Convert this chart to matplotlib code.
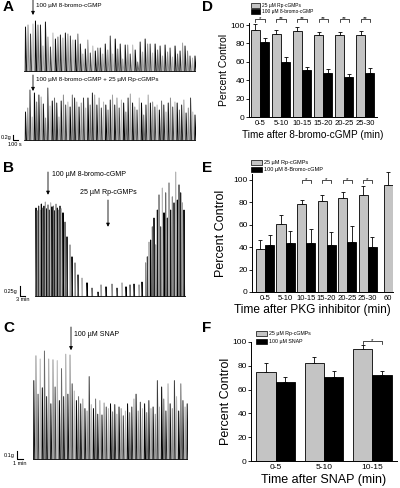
import numpy as np
import matplotlib
matplotlib.use('Agg')
import matplotlib.pyplot as plt
from matplotlib.patches import Patch

plt.rcParams['font.family'] = ['Liberation Sans', 'DejaVu Sans']

W, H = 400, 488

# ---- panel A: contraction amplitudes (g), evenly paced, 3440 s traces
a1_heights = [1.76, 1.84, 1.48, 1.88, 2.00, 1.84, 1.84, 1.00, 1.96, 1.36,
              0.96, 1.52, 1.28, 1.36, 1.44, 1.32, 1.52, 1.48, 1.40, 1.24,
              1.24, 1.48, 1.08, 0.68, 0.88, 1.24, 0.72, 1.00, 0.80, 0.92,
              0.92, 0.68, 1.08, 0.84, 1.40, 0.68, 1.28, 0.88, 1.08, 0.48,
              1.04, 1.04, 0.68, 1.04, 0.84, 0.36, 1.16, 0.76, 1.28, 1.08,
              1.08, 0.72, 1.08, 0.84, 1.00, 0.60, 1.04, 0.76, 0.92, 0.56,
              1.00, 0.68, 0.80, 1.12, 1.00, 0.80, 0.60, 0.52, 0.60]
a2_heights = [1.12, 1.28, 2.00, 0.92, 1.88, 1.52, 1.80, 1.72, 1.44, 0.88,
              2.08, 1.36, 1.56, 1.68, 1.48, 0.92, 1.56, 1.80, 1.40, 1.52,
              1.32, 1.80, 1.68, 1.52, 1.32, 1.48, 1.68, 1.28, 1.68, 1.40,
              1.88, 1.80, 1.40, 1.68, 1.28, 1.52, 1.40, 1.20, 1.60, 1.80,
              1.40, 1.68, 1.28, 1.60, 1.48, 1.12, 1.68, 1.84, 1.48, 1.32,
              1.20, 1.68, 1.48, 1.00, 1.40, 1.80, 1.48, 1.52, 1.32, 1.40,
              1.20, 1.56, 1.40, 1.12, 1.48, 1.68, 1.32, 1.52, 1.48, 1.20,
              1.40, 1.60, 1.08, 1.28, 1.68, 1.12, 1.00]
a_duration = 3440

# ---- panel B: contraction times (min) and amplitudes (g)
b_times = [0.6, 1.4, 2.2, 3.0, 3.8, 4.6, 5.4, 6.2, 7.0, 7.8,
           8.6, 9.4, 10.2, 11.0, 11.8, 12.6, 13.4, 14.2, 15.0, 15.8,
           16.8, 18.0, 19.2, 21.0, 22.2, 24.0, 25.8, 28.2, 31.2, 34.2,
           37.8, 39.6, 42.6, 46.2, 49.2, 52.2, 54.6, 57.0, 59.4, 62.4, 64.2,
           66.4, 67.4, 68.4, 69.4, 70.4, 71.4, 72.4, 73.4, 74.4, 75.4,
           76.4, 77.4, 78.4, 79.4, 80.4, 81.4, 82.4, 83.4, 84.4, 85.4,
           86.4, 87.4, 88.4, 89.4]
b_heights = [2.20, 2.13, 2.25, 2.15, 2.30, 2.20, 2.25, 2.35, 2.18, 2.28,
             2.15, 2.33, 2.23, 2.25, 2.13, 2.30, 2.20, 2.15, 2.25, 2.18,
             2.08, 1.85, 1.48, 1.28, 0.98, 0.83, 0.53, 0.45, 0.33, 0.20,
             0.10, 0.28, 0.23, 0.30, 0.20, 0.33, 0.23, 0.28, 0.30, 0.28, 0.35,
             0.83, 0.98, 1.35, 1.40, 1.73, 1.95, 1.28, 2.15, 2.53, 1.73,
             2.70, 2.08, 2.58, 1.95, 2.83, 2.15, 2.48, 2.33, 3.10, 2.40,
             2.78, 2.58, 2.33, 2.15]
b_duration = 90.6

# ---- panel C: contraction amplitudes (g), evenly paced, 1550 s trace
c_heights = [0.98, 1.29, 0.81, 1.25, 0.89, 1.35, 0.78, 1.25, 0.69, 1.24,
             0.90, 1.23, 0.73, 1.13, 0.78, 1.31, 0.81, 1.30,
             0.94, 0.85, 0.73, 0.78, 0.69, 0.75, 0.63, 0.60, 1.03, 0.68,
             0.63, 0.75, 0.56, 0.73, 0.55, 0.70, 0.65, 0.63, 0.69, 0.59,
             0.68, 0.56, 0.65, 0.63, 0.54, 0.60, 0.69, 0.58, 0.65, 0.75,
             0.81, 0.60, 0.71, 0.63, 0.69, 0.58, 0.73, 0.63, 0.65, 0.56,
             0.98, 0.65, 0.90, 0.75, 0.60, 0.94, 0.69, 0.63, 0.98, 0.78,
             0.60, 0.94, 0.73, 0.65, 0.69]
c_duration = 1550

# ---- bar panels (percent control, mean and SEM)
d_labels = ['0-5', '5-10', '10-15', '15-20', '20-25', '25-30']
d_rp = [95, 90, 93, 89, 89, 89]
d_rp_err = [6, 5, 5, 3, 3, 4]
d_bromo = [82, 60, 51, 47.5, 43, 48]
d_bromo_err = [3.5, 5, 3, 4.5, 4, 5]
d_sig = ['*', '**', '**', '**', '**', '**']

e_labels = ['0-5', '5-10', '10-15', '15-20', '20-25', '25-30', '60']
e_rp = [38, 60.7, 78.6, 81.5, 83.6, 86.3, 95.8]
e_rp_err = [8, 8, 3.5, 5, 6, 8, 11]
e_bromo = [42, 43.5, 44, 41.7, 45, 40]
e_bromo_err = [8.6, 11, 12, 12.3, 14, 9]
e_sig = ['', '', '*', '*', '*', '*']

f_labels = ['0-5', '5-10', '10-15']
f_rp = [75, 82.4, 93.8]
f_rp_err = [7, 4.6, 3.7]
f_snap = [66.7, 71, 72]
f_snap_err = [3.6, 4.6, 4]
f_sig = ['', '', '*']

fig = plt.figure(figsize=(W / 100, H / 100), dpi=100)


def px_axes(left, top, right, bottom):
    return fig.add_axes([left / W, 1 - bottom / H, (right - left) / W, (bottom - top) / H])


def px_text(x, y, s, **kw):
    fig.text(x / W, 1 - y / H, s, **kw)


SHADES = ['#111111', '#8c8c8c', '#3c3c3c', '#b4b4b4', '#000000', '#6a6a6a', '#222222', '#a0a0a0']


def draw_trace(ax, times, heights, pace):
    for i, (t, h) in enumerate(zip(times, heights)):
        ax.plot([t - 0.12 * pace, t, t + 0.45 * pace], [0, h, 0],
                color=SHADES[i % len(SHADES)], lw=0.7)
    ax.plot([0, ax.get_xlim()[1]], [0, 0], color='k', lw=0.6)
    ax.axis('off')


def scale_bar(ax, x0, dx, dy, ylab, xlab, ylab_dx, xlab_dy, fs=4):
    ax.plot([x0, x0, x0 + dx], [dy, 0, 0], color='k', lw=0.8, clip_on=False)
    ax.text(x0 - ylab_dx, dy / 2, ylab, ha='right', va='center', fontsize=fs)
    ax.text(x0 + dx / 2, -xlab_dy, xlab, ha='center', va='top', fontsize=fs)


def arrow(ax, x, y0, y1):
    ax.annotate('', xy=(x, y1), xytext=(x, y0),
                arrowprops=dict(arrowstyle='-|>', lw=0.6, color='k',
                                mutation_scale=5, shrinkA=0, shrinkB=0),
                annotation_clip=False)


# ---- A
ax = px_axes(24, 0, 196, 72)
ax.set_xlim(0, a_duration)
ax.set_ylim(-0.04, 2.84)
draw_trace(ax, np.linspace(30, a_duration - 20, len(a1_heights)), a1_heights, 50)
arrow(ax, 180, 2.84, 2.24)
ax.text(250, 2.64, '100 µM 8-bromo-cGMP', fontsize=4.5, va='center')

ax = px_axes(24, 74, 196, 141)
ax.set_xlim(0, a_duration)
ax.set_ylim(-0.04, 2.64)
draw_trace(ax, np.linspace(30, a_duration - 20, len(a2_heights)), a2_heights, 45)
arrow(ax, 180, 2.6, 1.96)
ax.text(250, 2.4, '100 µM 8-bromo-cGMP + 25 µM Rp-cGMPs', fontsize=4.5, va='center')
scale_bar(ax, -226, 100, 0.2, '0.2g', '100 s', 20, 0.08)

# ---- B
ax = px_axes(35, 165, 186, 297)
ax.set_xlim(0, b_duration)
ax.set_ylim(-0.025, 3.275)
draw_trace(ax, b_times, b_heights, 0.8)
arrow(ax, 7.8, 3.1, 2.53)
ax.text(10.2, 3.05, '100 µM 8-bromo-cGMP', fontsize=5, va='center')
arrow(ax, 43.8, 2.4, 1.73)
ax.text(43.8, 2.5, '25 µM Rp-cGMPs', fontsize=5, ha='center', va='bottom')
scale_bar(ax, -9, 3, 0.25, '0.25g', '3 min', 1.2, 0.03)

# ---- C
ax = px_axes(33, 325, 188, 460)
ax.set_xlim(0, c_duration)
ax.set_ylim(-0.0125, 1.675)
draw_trace(ax, np.linspace(8, c_duration - 8, len(c_heights)), c_heights, 21)
arrow(ax, 380, 1.65, 1.36)
ax.text(410, 1.55, '100 µM SNAP', fontsize=5, va='center')
scale_bar(ax, -160, 60, 0.1, '0.1g', '1 min', 25, 0.02)


# ---- bar panels
def bar_panel(ax, labels, rp, rp_err, other, other_err, sig, w, sig_y,
              tick_fs, star_fs, legend_labels, legend_xy, legend_fs, legend_hl, legend_ls):
    x = np.arange(len(labels))
    n = len(other)
    gx = np.where(x < n, x - w / 2, x)
    bx = x[:n] + w / 2
    ax.bar(gx, rp, w, color='#c4c4c4', edgecolor='k', lw=0.6, zorder=2)
    ax.bar(bx, other, w, color='k', edgecolor='k', lw=0.6, zorder=2)
    for pos, val, err in ((gx, rp, rp_err), (bx, other, other_err)):
        eb = ax.errorbar(pos, val, yerr=[np.zeros(len(err)), err], fmt='none',
                         ecolor='k', elinewidth=0.6, capsize=1.3, capthick=0.6, zorder=1)
        for art in list(eb.lines[1]) + list(eb.lines[2]):
            art.set_clip_on(False)
    for i, s in enumerate(sig):
        if s:
            ax.plot([gx[i], gx[i], bx[i], bx[i]], [sig_y - 2.5, sig_y, sig_y, sig_y - 2.5],
                    color='k', lw=0.5, clip_on=False)
            ax.text(x[i], sig_y - 2.2, s, ha='center', va='bottom', fontsize=star_fs)
    ax.set_xticks(np.where(x < n, x, gx))
    ax.set_xticklabels(labels)
    ax.set_yticks(range(0, 101, 20))
    for side in ('top', 'right'):
        ax.spines[side].set_visible(False)
    for side in ('left', 'bottom'):
        ax.spines[side].set_linewidth(0.7)
    ax.tick_params(axis='y', length=2, width=0.6, labelsize=6, pad=1)
    ax.tick_params(axis='x', length=0, labelsize=tick_fs, pad=2)
    handles = [Patch(facecolor='#c4c4c4', edgecolor='k', lw=0.5, label=legend_labels[0]),
               Patch(facecolor='k', edgecolor='k', lw=0.5, label=legend_labels[1])]
    ax.legend(handles=handles, loc='upper left',
              bbox_to_anchor=(legend_xy[0] / W, 1 - legend_xy[1] / H),
              bbox_transform=fig.transFigure, frameon=False, fontsize=legend_fs,
              handlelength=legend_hl, handleheight=1.0, handletextpad=0.4,
              labelspacing=legend_ls, borderpad=0, borderaxespad=0)


ax = px_axes(249, 117 - 102 * 0.92, 377, 117)
bar_panel(ax, d_labels, d_rp, d_rp_err, d_bromo, d_bromo_err, d_sig, 0.43, 106,
          5.5, 4.5, ['25 µM Rp-cGMPs', '100 µM 8-bromo-cGMP'], (251, 3), 3.5, 1.85, 0.25)
ax.set_xlim(-0.524, 5.57)
ax.set_ylim(0, 102)
ax.set_ylabel('Percent Control', fontsize=7.5)
ax.yaxis.set_label_coords(-0.156, 0.5)
ax.set_xlabel('Time after 8-bromo-cGMP (min)', fontsize=7.2, labelpad=2)

ax = px_axes(252, 292 - 105 * 1.12, 393, 292)
bar_panel(ax, e_labels, e_rp, e_rp_err, e_bromo, e_bromo_err, e_sig, 0.44, 100,
          5.5, 4.5, ['25 µM Rp-cGMPs', '100 µM 8-Bromo-cGMP'], (251, 160), 4, 2.0, 0.25)
ax.set_xlim(-0.634, 6.24)
ax.set_ylim(0, 105)
ax.set_ylabel('Percent Control', fontsize=9)
ax.yaxis.set_label_coords(-0.18, 0.5)
ax.set_xlabel('Time after PKG inhibitor (min)', fontsize=8.6, labelpad=2)
ax.xaxis.set_label_coords(0.43, -0.1)

ax = px_axes(251, 461 - 100 * 1.19, 397, 461)
bar_panel(ax, f_labels, f_rp, f_rp_err, f_snap, f_snap_err, f_sig, 0.40, 101,
          6, 4.5, ['25 µM Rp-cGMPs', '100 µM SNAP'], (256, 331), 3.8, 2.1, 0.5)
ax.set_xlim(-0.511, 2.512)
ax.set_ylim(0, 100)
ax.set_ylabel('Percent Control', fontsize=9)
ax.yaxis.set_label_coords(-0.13, 0.5)
ax.set_xlabel('Time after SNAP (min)', fontsize=9, labelpad=2)

# panel letters
for letter, (lx, ly) in {'A': (3, 0), 'B': (3, 161), 'C': (3, 321),
                         'D': (202, 0), 'E': (202, 161), 'F': (202, 321)}.items():
    px_text(lx, ly, letter, fontsize=11, fontweight='bold', va='top')

fig.savefig('out.png', dpi=100)
